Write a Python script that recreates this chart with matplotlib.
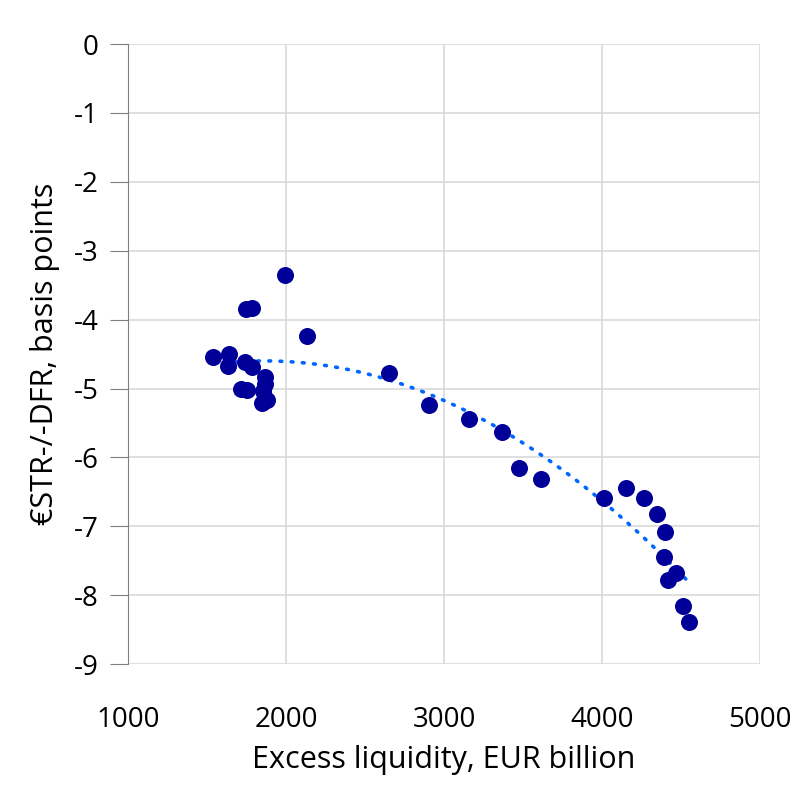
import numpy as np
import matplotlib.pyplot as plt

# Excess liquidity (EUR bn) vs €STR - DFR (bp)
excess_liq = np.array([1538, 1639, 1633, 1741, 1747, 1785, 1994, 2133, 1785,
                       1715, 1753, 1867, 1867, 1855, 1850, 1880,
                       2652, 2905, 3158, 3367, 3475, 3614,
                       4013, 4152, 4266, 4348, 4399, 4392, 4468, 4418, 4513, 4551])
spread = np.array([-4.54, -4.50, -4.67, -4.62, -3.85, -3.83, -3.35, -4.24, -4.69,
                   -5.01, -5.02, -4.83, -4.93, -5.04, -5.21, -5.17,
                   -4.78, -5.24, -5.44, -5.63, -6.15, -6.31,
                   -6.59, -6.44, -6.59, -6.82, -7.08, -7.45, -7.68, -7.78, -8.16, -8.39])

xticks = [1000, 2000, 3000, 4000, 5000]
yticks = [0, -1, -2, -3, -4, -5, -6, -7, -8, -9]

plt.rcParams['font.family'] = ['Open Sans', 'DejaVu Sans']

fig = plt.figure(figsize=(8, 7.86), dpi=100)
ax = fig.add_axes([0.16, 0.155, 0.79, 0.789])

# polynomial trend line (2nd order)
coef = np.polyfit(excess_liq, spread, 2)
xs = np.linspace(excess_liq.min(), excess_liq.max(), 200)
ax.plot(xs, np.polyval(coef, xs), color='#0066ff', lw=2.6, ls=(0, (0.5, 2.6)),
        dash_capstyle='round', zorder=3)

ax.scatter(excess_liq, spread, s=150, color='#000099', zorder=4, linewidths=0)

ax.set_xlim(1000, 5000)
ax.set_ylim(-9, 0)
ax.set_xticks(xticks)
ax.set_yticks(yticks)
ax.set_yticklabels([str(t) for t in yticks])
ax.grid(True, color='#d9d9d9', lw=1.2)
ax.set_axisbelow(True)
for s in ['top', 'right', 'bottom']:
    ax.spines[s].set_visible(False)
ax.spines['left'].set_color('#7f7f7f')
ax.tick_params(axis='x', length=0, pad=30, labelsize=20)
ax.tick_params(axis='y', length=13, color='#7f7f7f', pad=8, labelsize=20)

ax.set_xlabel('Excess liquidity, EUR billion', fontsize=22, labelpad=8)
ax.set_ylabel('€STR-/-DFR, basis points', fontsize=22, labelpad=10)

fig.savefig('out.png', dpi=100, facecolor='white')
